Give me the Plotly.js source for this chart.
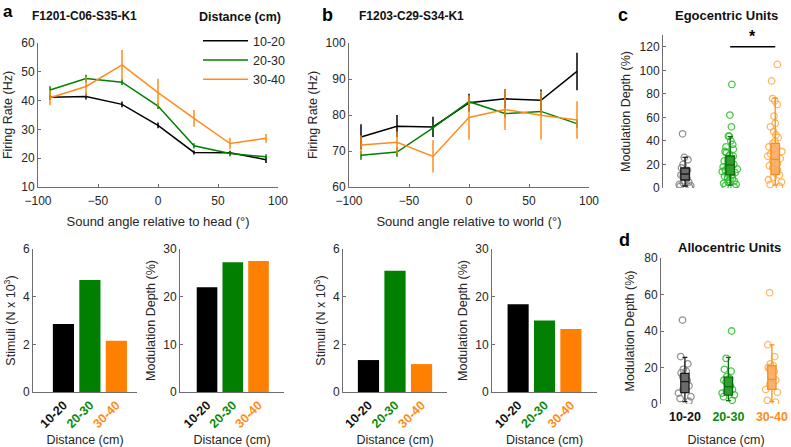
<!DOCTYPE html>
<html><head><meta charset="utf-8">
<script src="https://cdn.plot.ly/plotly-3.0.1.min.js"></script>
<style>html,body{margin:0;padding:0;background:#fff}#chart{width:791px;height:447px}</style>
</head><body><div id="chart"></div>
<script>
// ---------------- data ----------------
const angles = [-90, -60, -30, 0, 30, 60, 90];
const distCats = ['10-20', '20-30', '30-40'];

// panel a: firing rate vs sound angle relative to head
const headRate_10_20 = [41.2, 41.4, 38.7, 31.4, 22.0, 21.9, 19.5];
const headErr_10_20  = [0.9, 1.0, 1.0, 1.0, 0.7, 0.7, 1.2];
const headRate_20_30 = [43.7, 47.7, 46.4, 38.1, 24.3, 21.6, 20.5];
const headErr_20_30  = [1.3, 1.3, 1.0, 1.0, 0.9, 0.9, 0.9];
const headRate_30_40 = [41.0, 44.9, 52.4, 42.8, 33.8, 25.1, 26.9];
const headErr_30_40  = [2.6, 3.4, 5.2, 4.8, 2.9, 2.0, 1.5];

// panel b: firing rate vs sound angle relative to world
const worldRate_10_20 = [73.9, 76.9, 76.7, 83.4, 84.5, 84.1, 92.1];
const worldErr_10_20  = [3.5, 3.1, 2.8, 2.5, 2.7, 3.0, 5.2];
const worldRate_20_30 = [68.8, 69.7, 76.4, 83.7, 80.4, 81.0, 77.6];
const worldErr_20_30  = [1.2, 1.3, 1.3, 1.3, 1.1, 1.1, 1.2];
const worldRate_30_40 = [71.7, 72.4, 68.5, 79.3, 81.5, 79.9, 78.6];
const worldErr_30_40  = [2.6, 3.0, 4.5, 6.2, 5.7, 6.8, 5.2];

// bar charts below a and b
const headStimuli   = [2.85, 4.70, 2.15];   // N x 10^3
const headModDepth  = [22.0, 27.2, 27.5];   // %
const worldStimuli  = [1.34, 5.09, 1.17];
const worldModDepth = [18.4, 15.0, 13.2];

// panel c: egocentric units, modulation depth (%)
const egoUnits_10_20 = [46, 26, 24, 20, 17, 15, 13, 12, 11, 10, 8, 6, 5, 4, 3, 2, 1.5, 1];
const egoUnits_20_30 = [88, 62, 52, 44, 44, 40, 37, 35, 33, 31, 30, 28, 27, 25, 24, 23, 22, 21, 20, 19, 18, 18, 17, 16, 15, 14, 13, 12, 11, 10, 9, 8, 7, 6, 5, 4, 3, 2, 1];
const egoUnits_30_40 = [105, 91, 76, 74, 71, 61, 55, 52, 48, 45, 43, 40, 38, 35, 33, 31, 29, 27, 25, 23, 21, 19, 17, 15, 13, 11, 9, 7, 5, 3, 1.5];
const egoQ1     = [6.8, 11.1, 11.6];
const egoMedian = [11.9, 19.6, 24.4];
const egoQ3     = [17.0, 27.2, 38.0];
const egoLow    = [1.7, 2.5, 2.5];
const egoHigh   = [26.0, 43.7, 76.3];

// panel d: allocentric units, modulation depth (%)
const alloUnits_10_20 = [46, 26, 22, 19, 18, 17, 15, 13, 12, 10, 8, 6, 4, 3, 1.5];
const alloUnits_20_30 = [40, 25, 19, 18, 15, 14, 13, 12, 10, 9, 8, 7, 6, 5, 4, 2];
const alloUnits_30_40 = [61, 32.5, 26, 22, 21, 20, 19, 18, 15, 13, 11, 8, 6.5, 2, 1];
const alloQ1     = [6.2, 4.9, 8.0];
const alloMedian = [12.3, 9.5, 13.5];
const alloQ3     = [16.8, 14.7, 21.0];
const alloLow    = [1.3, 1.8, 1.3];
const alloHigh   = [25.6, 25.5, 32.4];

// significance marker in panel c
const sigPair = ['20-30', '30-40'];
const sigLevel = 120;

// ---------------- styling ----------------
const lineColors = ['#000000', '#008000', '#ff8c1a'];
const barColors  = ['#000000', '#007f00', '#ff7f00'];
const tickTextColors = ['#111111', '#0a8a0a', '#ff8c1a'];
const boxFill   = ['#6b6b6b', '#2f9e2f', 'rgba(250,172,95,0.9)'];
const boxLine   = ['#1a1a1a', '#0b6b0b', '#f7901e'];
const pointCol  = ['rgba(128,128,128,0.85)', 'rgba(40,190,40,0.85)', 'rgba(255,170,70,0.85)'];

const W = 791, H = 447;
const dx = (a, b) => [a / W, b / W];
const dy = (top, bottom) => [1 - bottom / H, 1 - top / H];
const FONT = 'Liberation Sans, Arial, Helvetica, sans-serif';
const TXT = '#262626';
const AXC = '#6e6e6e';

const catTickText = distCats.map((c, i) => `<span style="color:${tickTextColors[i]}"><b>${c}</b></span>`);

function yAx(extra) {
  return Object.assign({
    showgrid: false, zeroline: false, showline: true, linecolor: AXC, linewidth: 1,
    ticks: 'inside', ticklen: 3, tickcolor: AXC, tickfont: {size: 12, color: TXT, family: FONT},
    automargin: false, fixedrange: true
  }, extra);
}
function xAx(extra) {
  return Object.assign({
    showgrid: false, zeroline: false, showline: true, linecolor: AXC, linewidth: 1,
    ticks: 'inside', ticklen: 3, tickcolor: AXC, tickfont: {size: 12, color: TXT, family: FONT},
    automargin: false, fixedrange: true
  }, extra);
}

const traces = [];
const names = distCats;

// panel a lines
[[headRate_10_20, headErr_10_20], [headRate_20_30, headErr_20_30], [headRate_30_40, headErr_30_40]].forEach((d, i) => {
  traces.push({
    type: 'scatter', mode: 'lines', x: angles, y: d[0], name: names[i],
    xaxis: 'x', yaxis: 'y', showlegend: true,
    line: {color: lineColors[i], width: 1.5},
    error_y: {type: 'data', array: d[1], visible: true, width: 0, thickness: 1.5, color: lineColors[i]}
  });
});
// panel b lines
[[worldRate_10_20, worldErr_10_20], [worldRate_20_30, worldErr_20_30], [worldRate_30_40, worldErr_30_40]].forEach((d, i) => {
  traces.push({
    type: 'scatter', mode: 'lines', x: angles, y: d[0], name: names[i],
    xaxis: 'x2', yaxis: 'y2', showlegend: false,
    line: {color: lineColors[i], width: 1.5},
    error_y: {type: 'data', array: d[1], visible: true, width: 0, thickness: 1.5, color: lineColors[i]}
  });
});

// bars
[[headStimuli, 'x5', 'y5'], [headModDepth, 'x6', 'y6'], [worldStimuli, 'x7', 'y7'], [worldModDepth, 'x8', 'y8']].forEach(d => {
  traces.push({
    type: 'bar', x: distCats, y: d[0], xaxis: d[1], yaxis: d[2], showlegend: false,
    marker: {color: barColors, line: {width: 0}}
  });
});

// box panels
function addBoxes(units, q1, med, q3, lo, hi, xa, ya) {
  units.forEach((u, i) => {
    traces.push({
      type: 'box', y: u, x: u.map(() => distCats[i]), xaxis: xa, yaxis: ya, showlegend: false,
      boxpoints: 'all', jitter: 1, pointpos: 0, width: 0.36,
      fillcolor: 'rgba(0,0,0,0)', line: {width: 0, color: 'rgba(0,0,0,0)'},
      marker: {symbol: 'circle-open', size: 6.5, color: pointCol[i], line: {width: 1.3}},
      hoverinfo: 'skip'
    });
  });
  distCats.forEach((c, i) => {
    traces.push({
      type: 'box', x: [c], q1: [q1[i]], median: [med[i]], q3: [q3[i]],
      lowerfence: [lo[i]], upperfence: [hi[i]], xaxis: xa, yaxis: ya, showlegend: false,
      boxpoints: false, width: 0.19, whiskerwidth: 0.6,
      fillcolor: boxFill[i], line: {color: boxLine[i], width: 1.3}
    });
  });
}
addBoxes([egoUnits_10_20, egoUnits_20_30, egoUnits_30_40], egoQ1, egoMedian, egoQ3, egoLow, egoHigh, 'x3', 'y3');
addBoxes([alloUnits_10_20, alloUnits_20_30, alloUnits_30_40], alloQ1, alloMedian, alloQ3, alloLow, alloHigh, 'x4', 'y4');

const titleFont = {size: 12.5, color: TXT, family: FONT};
const tickFontBold = {size: 12.5, color: TXT, family: FONT};

function paperText(text, px, py, size, color) {
  return {text: text, x: px / W, y: 1 - py / H, xref: 'paper', yref: 'paper', xanchor: 'center', yanchor: 'middle',
    showarrow: false, font: {size: size, color: color, family: FONT}};
}

const layout = {
  width: W, height: H,
  margin: {l: 0, r: 0, t: 0, b: 0},
  paper_bgcolor: '#ffffff', plot_bgcolor: 'rgba(0,0,0,0)',
  font: {family: FONT, size: 12, color: TXT},
  bargap: 0.2, boxmode: 'overlay',
  showlegend: true,
  legend: {
    x: 198 / W, y: 1 - 26 / H, xanchor: 'left', yanchor: 'top',
    bgcolor: 'rgba(0,0,0,0)', borderwidth: 0,
    font: {size: 12.5, color: TXT, family: FONT},
    itemwidth: 45, tracegroupgap: 0
  },
  // panel a line
  xaxis: xAx({domain: dx(38, 278), anchor: 'y', range: [-100, 100], tickvals: [-100, -50, 0, 50, 100], ticklabelstandoff: 3,
    title: {text: 'Sound angle relative to head (°)', font: {size: 13, color: TXT, family: FONT}, standoff: 9}}),
  yaxis: yAx({domain: dy(43, 187), anchor: 'x', range: [10, 60], tickvals: [10, 20, 30, 40, 50, 60],
    title: {text: 'Firing Rate (Hz)', font: titleFont, standoff: 5}}),
  // panel b line
  xaxis2: xAx({domain: dx(349, 589), anchor: 'y2', range: [-100, 100], tickvals: [-100, -50, 0, 50, 100], ticklabelstandoff: 3,
    title: {text: 'Sound angle relative to world (°)', font: {size: 13, color: TXT, family: FONT}, standoff: 9}}),
  yaxis2: yAx({domain: dy(43, 187), anchor: 'x2', range: [60, 100], tickvals: [60, 70, 80, 90, 100],
    title: {text: 'Firing Rate (Hz)', font: titleFont, standoff: 5}}),
  // panel c
  xaxis3: xAx({domain: dx(663, 791), anchor: 'y3', type: 'category', categoryorder: 'array', categoryarray: distCats,
    range: [-0.49, 2.35], showline: false, ticks: '', showticklabels: false}),
  yaxis3: yAx({domain: dy(35, 188), anchor: 'x3', range: [0, 130], tickvals: [0, 20, 40, 60, 80, 100, 120],
    title: {text: 'Modulation Depth (%)', font: titleFont, standoff: 6}}),
  // panel d
  xaxis4: xAx({domain: dx(661, 791), anchor: 'y4', type: 'category', categoryorder: 'array', categoryarray: distCats,
    range: [-0.55, 2.44], showline: false, ticks: '', tickvals: distCats, ticktext: catTickText,
    tickfont: tickFontBold, ticklabelstandoff: 3,
    title: {text: 'Distance (cm)', font: titleFont, standoff: 12}}),
  yaxis4: yAx({domain: dy(258, 404), anchor: 'x4', range: [0, 80], tickvals: [0, 20, 40, 60, 80],
    title: {text: 'Modulation Depth (%)', font: titleFont, standoff: 6}}),
  // bars a1
  xaxis5: xAx({domain: dx(33, 137), anchor: 'y5', type: 'category', range: [-1.15, 2.78], ticks: '',
    tickvals: distCats, ticktext: catTickText, tickangle: -45, tickfont: tickFontBold,
    title: {text: 'Distance (cm)', font: titleFont, standoff: 5}}),
  yaxis5: yAx({domain: dy(249, 392), anchor: 'x5', range: [0, 6], tickvals: [0, 2, 4, 6],
    title: {text: 'Stimuli (N x 10<sup>3</sup>)', font: titleFont, standoff: 4}}),
  // bars a2
  xaxis6: xAx({domain: dx(180, 284), anchor: 'y6', type: 'category', range: [-1.05, 2.99], ticks: '',
    tickvals: distCats, ticktext: catTickText, tickangle: -45, tickfont: tickFontBold,
    title: {text: 'Distance (cm)', font: titleFont, standoff: 5}}),
  yaxis6: yAx({domain: dy(249, 392), anchor: 'x6', range: [0, 30], tickvals: [0, 10, 20, 30],
    title: {text: 'Modulation Depth (%)', font: titleFont, standoff: 4}}),
  // bars b1
  xaxis7: xAx({domain: dx(343, 447), anchor: 'y7', type: 'category', range: [-0.96, 2.96], ticks: '',
    tickvals: distCats, ticktext: catTickText, tickangle: -45, tickfont: tickFontBold,
    title: {text: 'Distance (cm)', font: titleFont, standoff: 5}}),
  yaxis7: yAx({domain: dy(249, 392), anchor: 'x7', range: [0, 6], tickvals: [0, 2, 4, 6],
    title: {text: 'Stimuli (N x 10<sup>3</sup>)', font: titleFont, standoff: 4}}),
  // bars b2
  xaxis8: xAx({domain: dx(492, 597), anchor: 'y8', type: 'category', range: [-0.99, 2.99], ticks: '',
    tickvals: distCats, ticktext: catTickText, tickangle: -45, tickfont: tickFontBold,
    title: {text: 'Distance (cm)', font: titleFont, standoff: 5}}),
  yaxis8: yAx({domain: dy(249, 392), anchor: 'x8', range: [0, 30], tickvals: [0, 10, 20, 30],
    title: {text: 'Modulation Depth (%)', font: titleFont, standoff: 4}}),
  shapes: [
    {type: 'line', xref: 'x3', yref: 'y3', x0: sigPair[0], x1: sigPair[1], y0: sigLevel, y1: sigLevel,
     line: {color: '#000', width: 1.5}}
  ],
  annotations: [
    paperText('<b>a</b>', 8, 11, 17, '#000'),
    paperText('<b>b</b>', 327, 15, 18, '#000'),
    paperText('<b>c</b>', 623, 15, 18, '#000'),
    paperText('<b>d</b>', 624, 240, 18, '#000'),
    paperText('<b>F1201-C06-S35-K1</b>', 84, 16, 12, '#111'),
    paperText('<b>F1203-C29-S34-K1</b>', 411, 16, 12, '#111'),
    paperText('<b>Distance (cm)</b>', 240, 17, 12.5, '#111'),
    paperText('<b>Egocentric Units</b>', 726, 16, 13, '#111'),
    paperText('<b>Allocentric Units</b>', 729, 247, 13, '#111'),
    {text: '<b>*</b>', xref: 'x3', yref: 'y3', x: 1.5, y: sigLevel, xanchor: 'center', yanchor: 'bottom', showarrow: false,
     font: {size: 16, color: '#000', family: FONT}}
  ]
};

Plotly.newPlot('chart', traces, layout, {displayModeBar: false, staticPlot: true});
</script>
</body></html>
